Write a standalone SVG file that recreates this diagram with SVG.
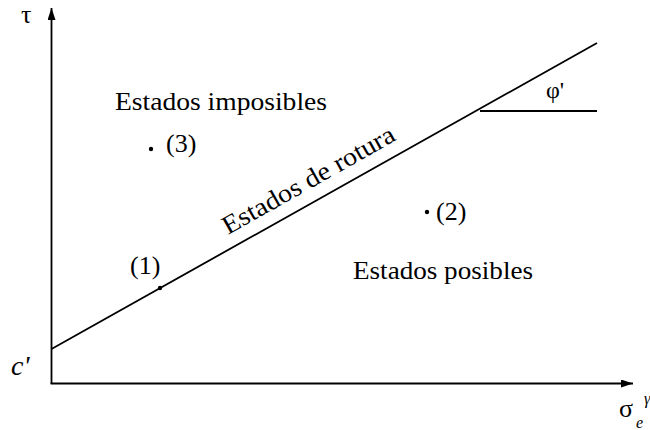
<svg xmlns="http://www.w3.org/2000/svg" width="650" height="430" viewBox="0 0 650 430">
<defs>
<marker id="ah" markerWidth="12" markerHeight="8" refX="12" refY="4" orient="auto" markerUnits="userSpaceOnUse">
<path d="M0,0 L12,4 L0,8 Z" fill="#000"/>
</marker>
</defs>
<rect width="650" height="430" fill="#fff"/>
<g id="axes" stroke="#000" stroke-width="1.8" fill="none">
<line x1="51.5" y1="384" x2="51.5" y2="8" marker-end="url(#ah)"/>
<line x1="50.6" y1="383.5" x2="633" y2="383.5" marker-end="url(#ah)"/>
</g>
<g id="connectors" stroke="#000" stroke-width="1.8" fill="none">
<line x1="51.5" y1="349" x2="597" y2="43"/>
<line x1="480" y1="111" x2="597" y2="111"/>
</g>
<g id="labels" font-family="'Liberation Serif', 'DejaVu Serif', serif" font-size="26" fill="#000">
<text x="21" y="23">τ</text>
<text x="11" y="375" font-size="28" font-style="italic">c'</text>
<text x="619" y="417">σ</text>
<text x="636" y="428" font-size="16" font-style="italic">e</text>
<text x="644" y="404" font-size="16" font-style="italic">γ</text>
<text x="546" y="98" font-size="24">φ'</text>
</g>
<g id="rotura" font-family="'Liberation Serif', 'DejaVu Serif', serif" font-size="26">
<text x="228" y="235" textLength="194" lengthAdjust="spacingAndGlyphs" transform="rotate(-29.4 228 235)">Estados de rotura</text>
</g>
<g id="imposibles" font-family="'Liberation Serif', 'DejaVu Serif', serif" font-size="26">
<text x="115" y="110" textLength="212" lengthAdjust="spacingAndGlyphs">Estados imposibles</text>
</g>
<g id="posibles" font-family="'Liberation Serif', 'DejaVu Serif', serif" font-size="26">
<text x="353" y="279" textLength="180" lengthAdjust="spacingAndGlyphs">Estados posibles</text>
</g>
<g id="p1" font-family="'Liberation Serif', 'DejaVu Serif', serif" font-size="26">
<circle cx="160" cy="288" r="2.2" fill="#000"/>
<text x="130" y="274">(1)</text>
</g>
<g id="p2" font-family="'Liberation Serif', 'DejaVu Serif', serif" font-size="26">
<circle cx="427" cy="212" r="2.2" fill="#000"/>
<text x="436" y="220">(2)</text>
</g>
<g id="p3" font-family="'Liberation Serif', 'DejaVu Serif', serif" font-size="26">
<circle cx="151" cy="149" r="2.2" fill="#000"/>
<text x="166" y="152">(3)</text>
</g>
</svg>
